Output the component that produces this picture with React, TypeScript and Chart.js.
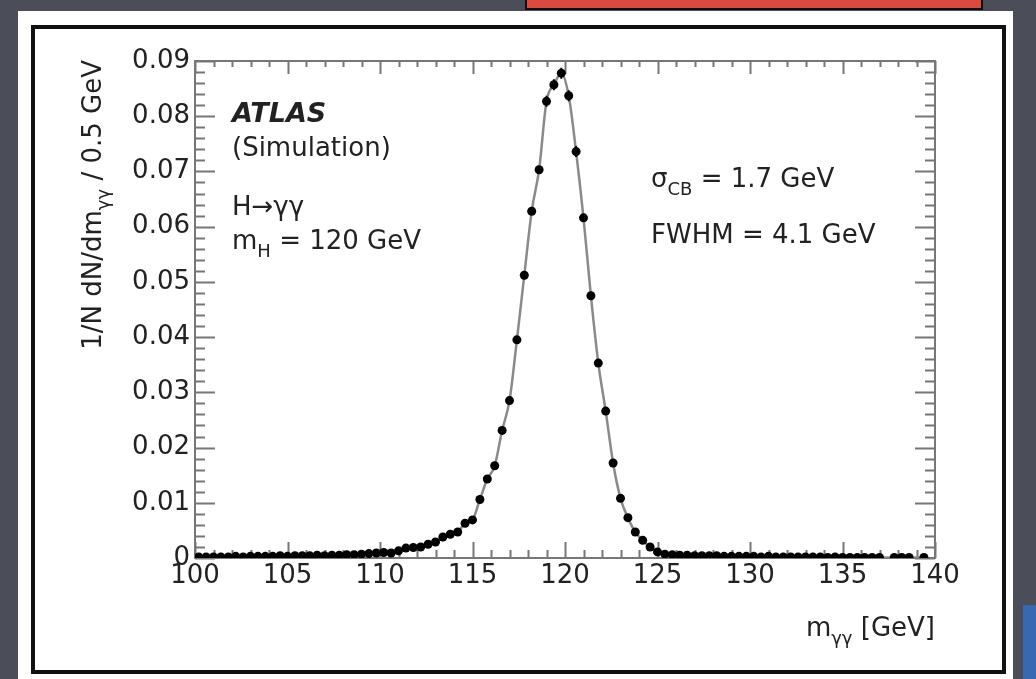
import React, { useEffect, useRef } from 'react';
import { Chart, registerables } from 'chart.js';

Chart.register(...registerables);

// ---- data ----
const binCenters = [
  100.2, 100.6, 101.0, 101.4, 101.8, 102.2, 102.6, 103.0, 103.4, 103.8,
  104.2, 104.6, 105.0, 105.4, 105.8, 106.2, 106.6, 107.0, 107.4, 107.8,
  108.2, 108.6, 109.0, 109.4, 109.8, 110.2, 110.6, 111.0, 111.4, 111.8,
  112.2, 112.6, 113.0, 113.4, 113.8, 114.2, 114.6, 115.0, 115.4, 115.8,
  116.2, 116.6, 117.0, 117.4, 117.8, 118.2, 118.6, 119.0, 119.4, 119.8,
  120.2, 120.6, 121.0, 121.4, 121.8, 122.2, 122.6, 123.0, 123.4, 123.8,
  124.2, 124.6, 125.0, 125.4, 125.8, 126.2, 126.6, 127.0, 127.4, 127.8,
  128.2, 128.6, 129.0, 129.4, 129.8, 130.2, 130.6, 131.0, 131.4, 131.8,
  132.2, 132.6, 133.0, 133.4, 133.8, 134.2, 134.6, 135.0, 135.4, 135.8,
  136.2, 136.6, 137.0, 137.4, 137.8, 138.2, 138.6, 139.0, 139.4, 139.8,
];

const simValues: (number | null)[] = [
  0.0002, 0.0002, 0.0002, 0.0002, 0.0002, 0.0003, 0.0002, 0.0003, 0.0003, 0.0003,
  0.0003, 0.0004, 0.0003, 0.0004, 0.0004, 0.0004, 0.0005, 0.0004, 0.0005, 0.0005,
  0.0006, 0.0006, 0.0007, 0.0008, 0.0009, 0.0010, 0.0009, 0.0013, 0.0018, 0.0019,
  0.0020, 0.0025, 0.0029, 0.0038, 0.0043, 0.0047, 0.0063, 0.0069, 0.0106, 0.0143,
  0.0167, 0.0231, 0.0285, 0.0395, 0.0512, 0.0628, 0.0703, 0.0827, 0.0857, 0.0878,
  0.0837, 0.0736, 0.0616, 0.0475, 0.0353, 0.0266, 0.0172, 0.0108, 0.0073, 0.0047,
  0.0032, 0.0020, 0.0011, 0.0007, 0.0006, 0.0005, 0.0005, 0.0004, 0.0004, 0.0004,
  0.0004, 0.0003, 0.0003, 0.0003, 0.0003, 0.0003, 0.0002, 0.0003, 0.0002, 0.0002,
  0.0002, 0.0002, 0.0002, 0.0002, 0.0002, 0.0001, 0.0002, 0.0001, 0.0001, 0.0001,
  0.0001, 0.0001, 0.0001, null, 0.0001, 0.0001, 0.0001, null, 0.0001, null,
];

const simErrors = [
  0.0001, 0.0001, 0.0001, 0.0001, 0.0001, 0.0001, 0.0001, 0.0001, 0.0001, 0.0001,
  0.0001, 0.0001, 0.0001, 0.0001, 0.0001, 0.0001, 0.0001, 0.0001, 0.0001, 0.0001,
  0.0001, 0.0001, 0.0001, 0.0001, 0.0001, 0.0002, 0.0002, 0.0002, 0.0002, 0.0002,
  0.0002, 0.0002, 0.0002, 0.0002, 0.0002, 0.0002, 0.0003, 0.0003, 0.0003, 0.0003,
  0.0003, 0.0005, 0.0005, 0.0005, 0.0007, 0.0007, 0.0007, 0.0010, 0.0010, 0.0010,
  0.0010, 0.0010, 0.0007, 0.0007, 0.0007, 0.0005, 0.0005, 0.0005, 0.0003, 0.0003,
  0.0003, 0.0003, 0.0003, 0.0001, 0.0001, 0.0001, 0.0001, 0.0001, 0.0001, 0.0001,
  0.0001, 0.0001, 0.0001, 0.0001, 0.0001, 0.0001, 0.0001, 0.0001, 0.0001, 0.0001,
  0.0001, 0.0001, 0.0001, 0.0001, 0.0001, 0.0001, 0.0001, 0.0001, 0.0001, 0.0001,
  0.0001, 0.0001, 0.0001, 0, 0.0001, 0.0001, 0.0001, 0, 0.0001, 0,
];

const xTickValues = [100, 105, 110, 115, 120, 125, 130, 135, 140];
const xTickLabels = ['100', '105', '110', '115', '120', '125', '130', '135', '140'];
const yTickValues = [0, 0.01, 0.02, 0.03, 0.04, 0.05, 0.06, 0.07, 0.08, 0.09];
const yTickLabels = ['0', '0.01', '0.02', '0.03', '0.04', '0.05', '0.06', '0.07', '0.08', '0.09'];

const FONT = '"DejaVu Sans", "Liberation Sans", sans-serif';
const TEXT_COLOR = '#222222';

type Seg = { t: string; sub?: boolean };

function segFont(size: number, sub?: boolean, weight = '', style = '') {
  const s = sub ? Math.round(size * 0.68) : size;
  return `${style} ${weight} ${s}px ${FONT}`.trim();
}

function richWidth(ctx: CanvasRenderingContext2D, segs: Seg[], size: number, weight = '', style = '') {
  let w = 0;
  for (const s of segs) {
    ctx.font = segFont(size, s.sub, weight, style);
    w += ctx.measureText(s.t).width;
  }
  return w;
}

function drawRich(
  ctx: CanvasRenderingContext2D,
  x: number,
  y: number,
  segs: Seg[],
  size: number,
  weight = '',
  style = ''
) {
  ctx.textBaseline = 'alphabetic';
  ctx.textAlign = 'left';
  let cx = x;
  for (const s of segs) {
    ctx.font = segFont(size, s.sub, weight, style);
    ctx.fillText(s.t, cx, s.sub ? y + size * 0.3 : y);
    cx += ctx.measureText(s.t).width;
  }
}

const framePlugin = {
  id: 'rootFrame',
  beforeDatasetsDraw(chart: any) {
    const { ctx, chartArea } = chart;
    const { left, right, top, bottom } = chartArea;
    const xs = chart.scales.x;
    const ys = chart.scales.y;
    ctx.save();
    ctx.strokeStyle = '#777777';
    ctx.lineWidth = 2;
    ctx.strokeRect(left, top, right - left, bottom - top);
    ctx.beginPath();
    // y ticks (left and right)
    for (let i = 0; i <= 45; i++) {
      const v = i * 0.002;
      const py = Math.round(ys.getPixelForValue(v)) + 0.5;
      const major = i % 5 === 0;
      const len = major ? 20 : 10;
      ctx.moveTo(left, py);
      ctx.lineTo(left + len, py);
      ctx.moveTo(right, py);
      ctx.lineTo(right - len, py);
    }
    // x ticks (bottom and top)
    for (let v = 100; v <= 140; v++) {
      const px = Math.round(xs.getPixelForValue(v)) + 0.5;
      const major = v % 5 === 0;
      ctx.moveTo(px, bottom);
      ctx.lineTo(px, bottom - (major ? 16 : 8));
      ctx.moveTo(px, top);
      ctx.lineTo(px, top + (major ? 13 : 6));
    }
    ctx.stroke();
    ctx.restore();
  },
  afterDatasetsDraw(chart: any) {
    const { ctx } = chart;
    const xs = chart.scales.x;
    const ys = chart.scales.y;
    ctx.save();
    ctx.strokeStyle = '#000000';
    ctx.lineWidth = 2;
    ctx.beginPath();
    binCenters.forEach((c, i) => {
      const v = simValues[i];
      const e = simErrors[i];
      if (v === null || !e) return;
      const px = xs.getPixelForValue(c);
      ctx.moveTo(px, ys.getPixelForValue(v - e));
      ctx.lineTo(px, ys.getPixelForValue(v + e));
    });
    ctx.stroke();
    ctx.restore();
  },
  afterDraw(chart: any) {
    const { ctx } = chart;
    ctx.save();
    ctx.fillStyle = TEXT_COLOR;
    const size = 26;
    drawRich(ctx, 232, 122, [{ t: 'ATLAS' }], 27, 'bold', 'italic');
    drawRich(ctx, 232, 156, [{ t: '(Simulation)' }], size);
    drawRich(ctx, 232, 215, [{ t: 'H\u2192\u03b3\u03b3' }], size);
    drawRich(ctx, 232, 249, [{ t: 'm' }, { t: 'H', sub: true }, { t: ' = 120 GeV' }], size);
    drawRich(ctx, 651, 187, [{ t: '\u03c3' }, { t: 'CB', sub: true }, { t: ' = 1.7 GeV' }], size);
    drawRich(ctx, 651, 243, [{ t: 'FWHM = 4.1 GeV' }], size);

    // x axis title (right aligned)
    const xt: Seg[] = [{ t: 'm' }, { t: '\u03b3\u03b3', sub: true }, { t: ' [GeV]' }];
    const w = richWidth(ctx, xt, size);
    drawRich(ctx, chart.chartArea.right - w, 636, xt, size);

    // y axis title (rotated)
    const yt: Seg[] = [
      { t: '1/N dN/dm' },
      { t: '\u03b3\u03b3', sub: true },
      { t: ' / 0.5 GeV' },
    ];
    const yw = richWidth(ctx, yt, size);
    ctx.translate(101, 60 + yw);
    ctx.rotate(-Math.PI / 2);
    drawRich(ctx, 0, 0, yt, size);
    ctx.restore();
  },
};

export default function App() {
  const canvasRef = useRef<HTMLCanvasElement | null>(null);

  useEffect(() => {
    if (!canvasRef.current) return;
    const pts = binCenters
      .map((c, i) => ({ x: c, y: simValues[i] }))
      .filter((p) => p.y !== null);

    const chart = new Chart(canvasRef.current, {
      type: 'scatter',
      data: {
        datasets: [
          {
            label: 'Simulation',
            data: pts as any,
            showLine: false,
            pointRadius: 4.5,
            pointBackgroundColor: '#000000',
            pointBorderWidth: 0,
            order: 0,
          },
          {
            label: 'Fit',
            data: pts as any,
            showLine: true,
            pointRadius: 0,
            borderColor: '#8a8a8a',
            borderWidth: 2.5,
            cubicInterpolationMode: 'monotone',
            order: 1,
          },
        ],
      },
      options: {
        responsive: false,
        animation: false,
        events: [],
        layout: { padding: { top: 61, right: 101, left: 0, bottom: 0 } },
        plugins: { legend: { display: false }, tooltip: { enabled: false } },
        scales: {
          x: {
            type: 'linear',
            min: 100,
            max: 140,
            afterFit: (s: any) => {
              s.height = 121;
            },
            afterBuildTicks: (s: any) => {
              s.ticks = xTickValues.map((v) => ({ value: v }));
            },
            grid: { display: false, drawTicks: false },
            border: { display: false },
            ticks: {
              font: { family: FONT, size: 26 },
              color: TEXT_COLOR,
              padding: 3,
              maxRotation: 0,
              autoSkip: false,
              callback: (_v: any, i: number) => xTickLabels[i],
            },
          },
          y: {
            type: 'linear',
            min: 0,
            max: 0.09,
            afterFit: (s: any) => {
              s.width = 195;
            },
            afterBuildTicks: (s: any) => {
              s.ticks = yTickValues.map((v) => ({ value: v }));
            },
            grid: { display: false, drawTicks: false },
            border: { display: false },
            ticks: {
              font: { family: FONT, size: 26 },
              color: TEXT_COLOR,
              padding: 5,
              autoSkip: false,
              callback: (_v: any, i: number) => yTickLabels[i],
            },
          },
        },
      },
      plugins: [framePlugin],
    });
    return () => chart.destroy();
  }, []);

  return (
    <div
      style={{
        position: 'fixed',
        left: 0,
        top: 0,
        width: 1036,
        height: 679,
        background: '#4b4e58',
        overflow: 'hidden',
      }}
    >
      <div
        style={{
          position: 'absolute',
          left: 18,
          top: 11,
          width: 995,
          height: 680,
          background: '#ffffff',
        }}
      />
      <div
        style={{
          position: 'absolute',
          left: 31,
          top: 25,
          width: 975 - 8,
          height: 649 - 8,
          border: '4px solid #111111',
        }}
      />
      <div
        style={{
          position: 'absolute',
          left: 525,
          top: -4,
          width: 458 - 4,
          height: 14 - 4,
          background: '#d94b41',
          border: '2px solid #111111',
        }}
      />
      <div
        style={{
          position: 'absolute',
          left: 1023,
          top: 605,
          width: 13,
          height: 74,
          background: '#3868b0',
        }}
      />
      <canvas
        ref={canvasRef}
        width={1036}
        height={679}
        style={{ position: 'absolute', left: 0, top: 0, display: 'block' }}
      />
    </div>
  );
}
